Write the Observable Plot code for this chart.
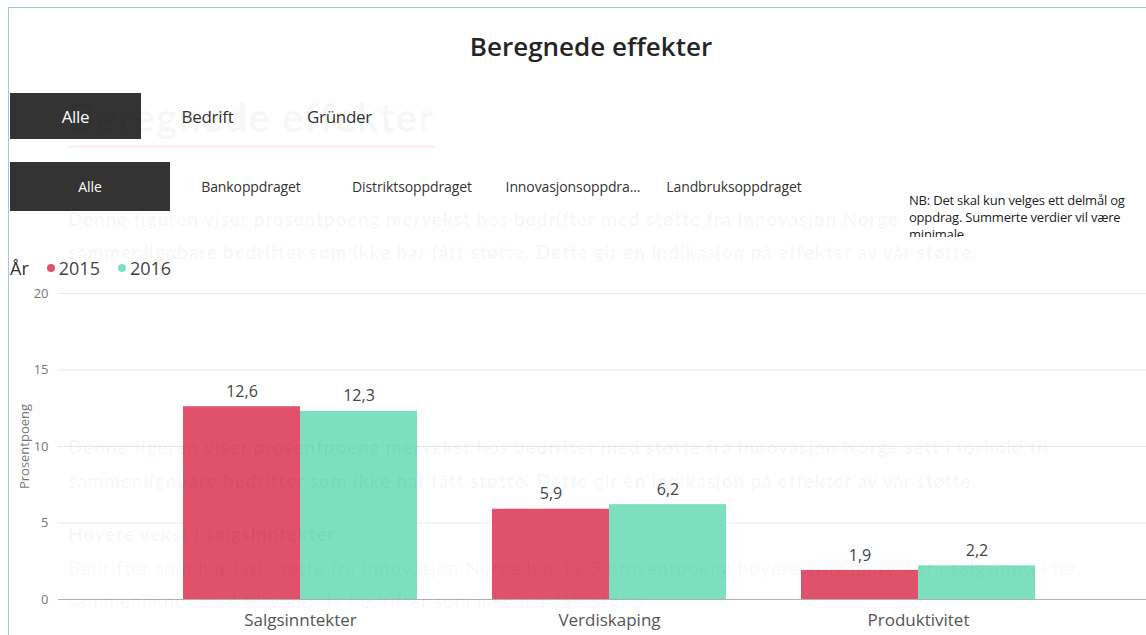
<!DOCTYPE html>
<html>
<head>
<meta charset="utf-8">
<script src="https://cdn.jsdelivr.net/npm/d3@7"></script>
<script src="https://cdn.jsdelivr.net/npm/@observablehq/plot@0.6"></script>
<style>
  html, body { margin: 0; padding: 0; background: #fff; }
  #page { position: relative; width: 1146px; height: 635px; overflow: hidden; background: #fff; font-family: "Open Sans", "Noto Sans", sans-serif; color: #333; }
  .abs { position: absolute; }
  .btn { position: absolute; display: flex; align-items: center; justify-content: center; white-space: nowrap; }
  .ghost { position: absolute; white-space: nowrap; font-family: Lato, "Open Sans", sans-serif; color: rgba(0,0,0,0.04); pointer-events: none; line-height: 1; }
  .layer { position: absolute; left: 0; top: 280px; width: 1146px; height: 355px; }
  .layer svg { overflow: visible; }
</style>
</head>
<body>
<div id="page">
  <div class="abs" style="left:8px;top:7px;width:1px;height:628px;background:#a9c4ea"></div>
  <div class="abs" style="left:8px;top:7px;width:1138px;height:1px;background:#a9c4ea"></div>

  <div class="abs" style="left:0;width:1182px;top:29px;text-align:center;font-size:26px;font-weight:600;color:#252525;line-height:34px" id="title"></div>

  <div id="row1"></div>
  <div id="row2"></div>
  <div id="axes" class="layer"></div>
  <div id="bars" class="layer"></div>
  <div id="ghosts"></div>
  <div id="note" class="abs" style="left:904px;top:192px;width:224px;height:45px;overflow:hidden;background:#fff;font-size:13px;line-height:17px;color:#222;padding-left:5px;letter-spacing:-0.2px"></div>
  <div id="legend" class="abs" style="left:10px;top:256px;height:24px;display:flex;align-items:center;font-size:18px;color:#444;white-space:nowrap"></div>
</div>
<script>
// ---- data ----
const titleText = "Beregnede effekter";
const row1Labels = ["Alle", "Bedrift", "Gründer"];
const row2Labels = ["Alle", "Bankoppdraget", "Distriktsoppdraget", "Innovasjonsoppdra...", "Landbruksoppdraget"];
const noteText = "NB: Det skal kun velges ett delmål og oppdrag. Summerte verdier vil være minimale.";
const legendTitle = "År";
const categories = ["Salgsinntekter", "Verdiskaping", "Produktivitet"];
const years = ["2015", "2016"];
const values2015 = [12.6, 5.9, 1.9];
const values2016 = [12.3, 6.2, 2.2];
const colors = ["#E0516B", "#7CE0BF"];
const yTicks = [0, 5, 10, 15, 20];
const yLabel = "Prosentpoeng";
const ghostTitle = "Beregnede effekter";
const ghostLines = [
  "Denne figuren viser prosentpoeng mervekst hos bedrifter med støtte fra Innovasjon Norge sett i forhold til",
  "sammenlignbare bedrifter som ikke har fått støtte. Dette gir en indikasjon på effekter av vår støtte.",
  "Høyere vekst i salgsinntekter",
  "Bedrifter som har fått støtte fra Innovasjon Norge har 12,3 prosentpoeng høyere årlig mervekst i salgsinntekter,",
  "sammenliknet med tilsvarende bedrifter som ikke har fått støtte."
];

// ---- header & controls ----
document.getElementById("title").textContent = titleText;

const row1 = document.getElementById("row1");
row1Labels.forEach((t, i) => {
  const d = document.createElement("div");
  d.className = "btn";
  d.style.cssText = `left:${10 + i * 132}px;top:93px;width:131px;height:46px;font-size:17px;letter-spacing:-0.3px;` +
    (i === 0 ? "background:#333;color:#fff;" : "color:#333;");
  d.textContent = t;
  row1.appendChild(d);
});

const row2 = document.getElementById("row2");
row2Labels.forEach((t, i) => {
  const d = document.createElement("div");
  d.className = "btn";
  d.style.cssText = `left:${10 + i * 161}px;top:162px;width:160px;height:49px;font-size:14px;letter-spacing:-0.1px;` +
    (i === 0 ? "background:#333;color:#fff;" : "color:#333;");
  d.textContent = t;
  row2.appendChild(d);
});

document.getElementById("note").textContent = noteText;

const legend = document.getElementById("legend");
const lt = document.createElement("span");
lt.textContent = legendTitle;
lt.style.cssText = "color:#333;margin-right:18px";
legend.appendChild(lt);
years.forEach((y, i) => {
  const dot = document.createElement("span");
  dot.style.cssText = `display:inline-block;width:8px;height:8px;border-radius:50%;background:${colors[i]};margin-right:4px`;
  legend.appendChild(dot);
  const s = document.createElement("span");
  s.textContent = y;
  s.style.cssText = "margin-right:18px";
  legend.appendChild(s);
});

// ---- ghost (faded background) text ----
const ghosts = document.getElementById("ghosts");
function ghost(text, left, top, size, weight, ls) {
  const g = document.createElement("div");
  g.className = "ghost";
  g.style.cssText = `left:${left}px;top:${top}px;font-size:${size}px;font-weight:${weight};letter-spacing:${ls}px`;
  g.textContent = text;
  ghosts.appendChild(g);
}
ghost(ghostTitle, 68, 97, 40, 700, 1.2);
const ul = document.createElement("div");
ul.style.cssText = "position:absolute;left:68px;top:145px;width:367px;height:3px;background:rgba(225,80,107,0.07)";
ghosts.appendChild(ul);
ghost(ghostLines[0], 68, 209, 19, 700, 0.8);
ghost(ghostLines[1], 68, 242, 19, 700, 0.8);
ghost(ghostLines[0], 68, 437, 19, 700, 0.8);
ghost(ghostLines[1], 68, 471, 19, 700, 0.8);
ghost(ghostLines[2], 68, 524, 19, 700, 0.8);
ghost(ghostLines[3], 68, 558, 19, 400, 0.8);
ghost(ghostLines[4], 68, 591, 19, 400, 0.8);

// ---- chart ----
const data = [];
categories.forEach((c, i) => {
  data.push({category: c, year: years[0], value: values2015[i]});
  data.push({category: c, year: years[1], value: values2016[i]});
});
const fmt = v => d3.format(".1f")(v).replace(".", ",");

const common = {
  width: 1146,
  height: 355,
  marginLeft: 58,
  marginRight: 0,
  marginTop: 13,
  marginBottom: 36,
  style: {fontFamily: "'Open Sans', 'Noto Sans', sans-serif", background: "transparent", overflow: "visible"}
};

// layer 1: y axis, gridlines and baseline across the full width
const axes = Plot.plot({
  ...common,
  y: {domain: [0, 20]},
  marks: [
    Plot.gridY({ticks: yTicks, stroke: "#e9e9e9", strokeOpacity: 1}),
    Plot.axisY({ticks: yTicks, tickSize: 0, tickPadding: 10, fontSize: 13, color: "#777",
      label: yLabel, labelAnchor: "center", labelOffset: 39, labelArrow: "none"}),
    Plot.ruleY([0], {stroke: "#b0b0b0"})
  ]
});
document.getElementById("axes").appendChild(axes);

// layer 2: grouped bars, value labels and category labels
const bars = Plot.plot({
  ...common,
  fx: {domain: categories, paddingInner: 0.244, paddingOuter: 0.38, align: 0.528, label: null},
  x: {domain: years, padding: 0, axis: null},
  y: {domain: [0, 20], axis: null},
  color: {domain: years, range: colors},
  marks: [
    Plot.barY(data, {fx: "category", x: "year", y: "value", fill: "year"}),
    Plot.text(data, {fx: "category", x: "year", y: "value", text: d => fmt(d.value), dy: -15, fontSize: 16, fill: "#444"}),
    Plot.axisFx({anchor: "bottom", tickSize: 0, tickPadding: 14, fontSize: 17, color: "#555", label: null})
  ]
});
document.getElementById("bars").appendChild(bars);
</script>
</body>
</html>
